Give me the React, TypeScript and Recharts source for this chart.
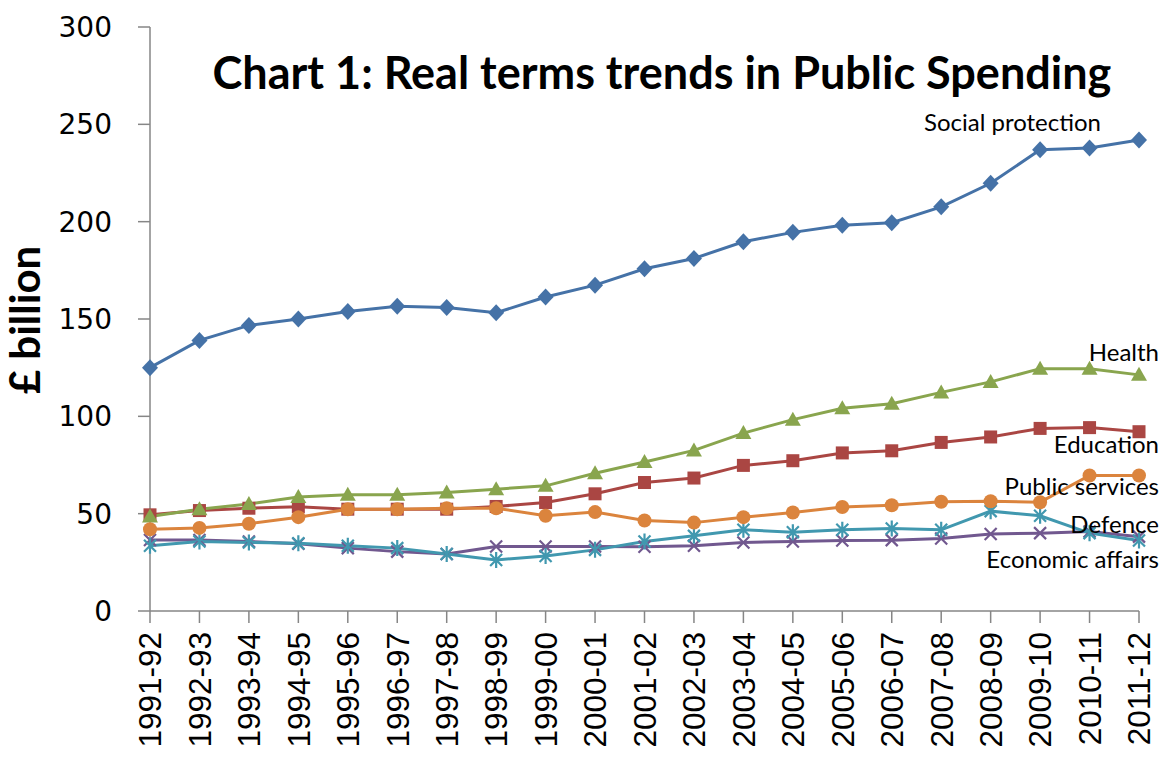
import React from "react";
import { LineChart, Line, XAxis, YAxis, LabelList } from "recharts";

const years = [
  "1991-92", "1992-93", "1993-94", "1994-95", "1995-96", "1996-97", "1997-98",
  "1998-99", "1999-00", "2000-01", "2001-02", "2002-03", "2003-04", "2004-05",
  "2005-06", "2006-07", "2007-08", "2008-09", "2009-10", "2010-11", "2011-12",
];

const socialProtection = [125, 139, 146.7, 150, 153.9, 156.6, 155.9, 153.2, 161.3, 167.4, 175.8, 181.1, 189.7, 194.5, 198.1, 199.5, 207.6, 219.7, 236.9, 237.9, 242];
const education = [49.4, 51.6, 52.8, 53.5, 52.3, 52.3, 52.3, 53.7, 55.7, 60.2, 66, 68.3, 74.8, 77.2, 81.2, 82.3, 86.6, 89.4, 93.8, 94.2, 92.1];
const health = [48.5, 52.3, 55, 58.5, 59.7, 59.7, 60.9, 62.6, 64.3, 70.8, 76.5, 82.5, 91.4, 98.3, 104.1, 106.5, 112.3, 117.7, 124.5, 124.4, 121.3];
const economicAffairs = [36.5, 36.5, 35.7, 34.5, 32.3, 30.5, 29.3, 33.1, 33.1, 33.1, 33, 33.5, 35.2, 35.7, 36.2, 36.4, 37.2, 39.6, 40, 40.8, 38.2];
const defence = [33.5, 35.7, 35.2, 34.8, 33.5, 32.3, 29.3, 26.2, 28.3, 31.4, 35.7, 38.6, 41.7, 40.5, 41.7, 42.4, 41.7, 51.3, 48.9, 40, 36.2];
const publicServices = [42, 42.7, 44.8, 48.2, 52.3, 52.3, 52.8, 52.8, 48.9, 50.8, 46.5, 45.4, 48.2, 50.6, 53.4, 54.3, 56.1, 56.4, 55.9, 69.6, 69.6];

const yTicks = [0, 50, 100, 150, 200, 250, 300];

const data = years.map((year, i) => ({
  year,
  social: socialProtection[i],
  education: education[i],
  health: health[i],
  economic: economicAffairs[i],
  defence: defence[i],
  publicServices: publicServices[i],
}));

const BLUE = "#4572A7";
const RED = "#AA4643";
const GREEN = "#89A54E";
const PURPLE = "#71588F";
const TEAL = "#4198AF";
const ORANGE = "#DB843D";
const AXIS = "#868686";

const diamond = (p: any) => (
  <path key={`dia-${p.index}`} d={`M${p.cx},${p.cy - 8.5}L${p.cx + 8},${p.cy}L${p.cx},${p.cy + 8.5}L${p.cx - 8},${p.cy}Z`} fill={BLUE} />
);
const square = (p: any) => (
  <rect key={`sq-${p.index}`} x={p.cx - 6.5} y={p.cy - 6.5} width={13} height={13} fill={RED} />
);
const triangle = (p: any) => (
  <path key={`tri-${p.index}`} d={`M${p.cx},${p.cy - 8}L${p.cx + 8},${p.cy + 6}L${p.cx - 8},${p.cy + 6}Z`} fill={GREEN} />
);
const cross = (p: any) => (
  <path key={`x-${p.index}`} d={`M${p.cx - 6},${p.cy - 6}L${p.cx + 6},${p.cy + 6}M${p.cx - 6},${p.cy + 6}L${p.cx + 6},${p.cy - 6}`} stroke={PURPLE} strokeWidth={2.2} />
);
const star = (p: any) => (
  <path key={`st-${p.index}`} d={`M${p.cx - 6},${p.cy - 6}L${p.cx + 6},${p.cy + 6}M${p.cx - 6},${p.cy + 6}L${p.cx + 6},${p.cy - 6}M${p.cx},${p.cy - 8}L${p.cx},${p.cy + 8}`} stroke={TEAL} strokeWidth={2.2} />
);
const circle = (p: any) => (
  <circle key={`ci-${p.index}`} cx={p.cx} cy={p.cy} r={7} fill={ORANGE} />
);

const endLabel = (text: string, dx: number, dy: number) => (p: any) => {
  if (p.index !== years.length - 1) return null;
  return (
    <text x={p.x + dx} y={p.y + dy} textAnchor="end" dominantBaseline="central" fontFamily="Lato" fontSize={24} fill="#000">
      {text}
    </text>
  );
};

const XTick = (props: any) => {
  const { x, y, payload } = props;
  return (
    <text x={x} y={y} dy="0.36em" transform={`rotate(-90, ${x}, ${y})`} textAnchor="end" fontFamily="Liberation Sans" fontSize={31.5} fill="#000">
      {payload.value}
    </text>
  );
};

export default function App() {
  return (
    <div style={{ position: "relative", width: 1152, height: 744 }}>
      <LineChart width={1152} height={744} data={data} margin={{ top: 19, right: 21, bottom: 0, left: 0 }}>
        <XAxis
          dataKey="year"
          scale="point"
          padding={{ left: 0, right: 0 }}
          interval={0}
          height={141}
          tickSize={12}
          tickMargin={9}
          stroke={AXIS}
          strokeWidth={1.5}
          tick={<XTick />}
        />
        <YAxis
          domain={[0, 300]}
          ticks={yTicks}
          width={142}
          tickSize={12}
          tickMargin={26}
          stroke={AXIS}
          strokeWidth={1.5}
          tick={{ fontFamily: "DejaVu Sans", fontSize: 28, fill: "#000" }}
        />
        <Line dataKey="social" stroke={BLUE} strokeWidth={3} dot={diamond} activeDot={false} isAnimationActive={false}>
          <LabelList dataKey="social" content={endLabel("Social protection", -38, -18)} />
        </Line>
        <Line dataKey="education" stroke={RED} strokeWidth={3} dot={square} activeDot={false} isAnimationActive={false}>
          <LabelList dataKey="education" content={endLabel("Education", 20, 12)} />
        </Line>
        <Line dataKey="health" stroke={GREEN} strokeWidth={3} dot={triangle} activeDot={false} isAnimationActive={false}>
          <LabelList dataKey="health" content={endLabel("Health", 20, -23)} />
        </Line>
        <Line dataKey="economic" stroke={PURPLE} strokeWidth={3} dot={cross} activeDot={false} isAnimationActive={false}>
          <LabelList dataKey="economic" content={endLabel("Economic affairs", 20, 22)} />
        </Line>
        <Line dataKey="defence" stroke={TEAL} strokeWidth={3} dot={star} activeDot={false} isAnimationActive={false}>
          <LabelList dataKey="defence" content={endLabel("Defence", 20, -17)} />
        </Line>
        <Line dataKey="publicServices" stroke={ORANGE} strokeWidth={3} dot={circle} activeDot={false} isAnimationActive={false}>
          <LabelList dataKey="publicServices" content={endLabel("Public services", 20, 10)} />
        </Line>
      </LineChart>
      <div
        style={{
          position: "absolute",
          left: 154,
          width: 1000,
          top: 40,
          textAlign: "center",
          fontFamily: "Lato",
          fontWeight: 700,
          fontSize: 45,
          lineHeight: "48px",
          color: "#000",
          whiteSpace: "nowrap",
        }}
      >
        Chart 1: Real terms trends in Public Spending
      </div>
      <div
        style={{
          position: "absolute",
          left: 16,
          top: 312,
          transform: "translate(-50%, -50%) rotate(-90deg)",
          fontFamily: "Lato",
          fontWeight: 700,
          fontSize: 42,
          lineHeight: "34px",
          color: "#000",
          whiteSpace: "nowrap",
        }}
      >
        £ billion
      </div>
    </div>
  );
}
